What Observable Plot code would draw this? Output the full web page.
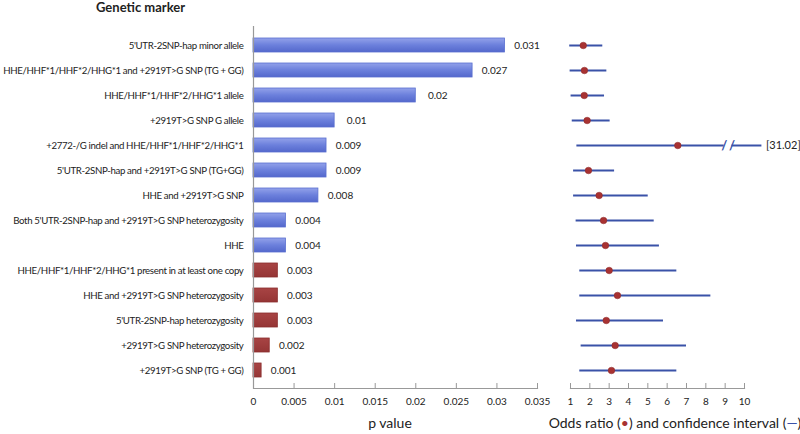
<!DOCTYPE html>
<html>
<head>
<meta charset="utf-8">
<script src="https://cdn.jsdelivr.net/npm/d3@7"></script>
<script src="https://cdn.jsdelivr.net/npm/@observablehq/plot@0.6"></script>
<style>
  html, body { margin: 0; padding: 0; background: #fff; }
  #wrap { position: relative; width: 800px; height: 434px; font-family: Lato, "Open Sans", sans-serif; }
  #wrap > svg { position: absolute; left: 0; top: 0; }
  .title { position: absolute; left: 96px; top: -1px; font-size: 13px; font-weight: bold; color: #222; }
  .xlab { position: absolute; top: 414px; font-size: 14px; color: #222; white-space: nowrap; transform: translateX(-50%); }
  .red { color: #a83232; }
  .blue { color: #3a52a8; }
  .bluebars rect { fill: url(#gradBlue); }
  .redbars rect { fill: url(#gradRed); }
</style>
</head>
<body>
<svg width="0" height="0" style="position:absolute">
  <defs>
    <linearGradient id="gradBlue" x1="0" x2="0" y1="0" y2="1">
      <stop offset="0%" stop-color="#93a2ea"/>
      <stop offset="50%" stop-color="#6c80dc"/>
      <stop offset="100%" stop-color="#5468cc"/>
    </linearGradient>
    <linearGradient id="gradRed" x1="0" x2="0" y1="0" y2="1">
      <stop offset="0%" stop-color="#a84444"/>
      <stop offset="100%" stop-color="#953535"/>
    </linearGradient>
  </defs>
</svg>
<div id="wrap">
  <div class="title">Genetic marker</div>
  <div class="xlab" style="left:390px">p value</div>
  <div class="xlab" style="left:675px">Odds ratio (<span class="red">•</span>) and confidence interval (<span class="blue">—</span>)</div>
</div>
<script>
const markers = [
  "5'UTR-2SNP-hap minor allele",
  "HHE/HHF*1/HHF*2/HHG*1 and +2919T>G SNP (TG + GG)",
  "HHE/HHF*1/HHF*2/HHG*1 allele",
  "+2919T>G SNP G allele",
  "+2772-/G indel and HHE/HHF*1/HHF*2/HHG*1",
  "5'UTR-2SNP-hap and +2919T>G SNP (TG+GG)",
  "HHE and +2919T>G SNP",
  "Both 5'UTR-2SNP-hap and +2919T>G SNP heterozygosity",
  "HHE",
  "HHE/HHF*1/HHF*2/HHG*1 present in at least one copy",
  "HHE and +2919T>G SNP heterozygosity",
  "5'UTR-2SNP-hap heterozygosity",
  "+2919T>G SNP heterozygosity",
  "+2919T>G SNP (TG + GG)"
];
const pValues = [0.031, 0.027, 0.02, 0.01, 0.009, 0.009, 0.008, 0.004, 0.004, 0.003, 0.003, 0.003, 0.002, 0.001];
const groups = ["A","A","A","A","A","A","A","A","A","B","B","B","B","B"];
const oddsRatio = [1.66, 1.72, 1.71, 1.86, 6.55, 1.93, 2.48, 2.71, 2.81, 3.0, 3.43, 2.85, 3.31, 3.12];
const ciLow = [0.96, 0.98, 1.03, 1.09, 1.33, 1.16, 1.16, 1.29, 1.31, 1.48, 1.48, 1.31, 1.55, 1.48];
const ciHigh = [2.67, 2.88, 2.76, 3.05, 31.02, 3.28, 5.02, 5.33, 5.60, 6.5, 8.26, 5.81, 7.0, 6.5];
const pTicks = [0, 0.005, 0.01, 0.015, 0.02, 0.025, 0.03, 0.035];
const orTicks = [1, 2, 3, 4, 5, 6, 7, 8, 9, 10];
// axis break for intervals beyond the visible scale
const breakStart = 8.95, breakEnd = 9.35, breakCap = 10.9;

const rows = markers.map((m, i) => ({
  marker: m, p: pValues[i], group: groups[i],
  or: oddsRatio[i], lo: ciLow[i], hi: ciHigh[i]
}));
const broken = rows.filter(d => d.hi > 10);
const normal = rows.filter(d => d.hi <= 10);

// the original uses a narrow face (Calibri): tighten Lato and size it so the labels fit
const ctx = document.createElement("canvas").getContext("2d");
const mw = (f, t) => { ctx.font = f; return ctx.measureText(t).width; };
const letterSpacing = -0.35;
const longestLabel = markers.reduce((a, b) => mw("10px Lato", b) > mw("10px Lato", a) ? b : a);
const labelSize = Math.min(11, (241 - longestLabel.length * letterSpacing) / (mw("10px Lato", longestLabel) / 10));
const font = "Lato, 'Open Sans', sans-serif";

const W = 800, H = 434, mTop = 26, mBottom = 46;
const pFmt = d => d === 0 ? "0" : String(+d.toFixed(3));

const barPlot = Plot.plot({
  width: W, height: H,
  marginLeft: 253, marginRight: W - 537, marginTop: mTop, marginBottom: mBottom,
  style: {fontFamily: font, fontSize: "10px", color: "#222", background: "transparent", overflow: "visible"},
  x: {domain: [0, 0.035], ticks: pTicks, tickFormat: pFmt},
  y: {domain: markers, padding: 0.46, label: null},
  marks: [
    Plot.barX(rows.filter(d => d.group === "A"), {x: "p", y: "marker", fill: "#6c80dc", stroke: "#5a6fd0", strokeWidth: 0.8, className: "bluebars"}),
    Plot.barX(rows.filter(d => d.group === "B"), {x: "p", y: "marker", fill: "#9e3a3a", stroke: "#8a2e2e", strokeWidth: 0.8, className: "redbars"}),
    Plot.text(rows, {x: "p", y: "marker", text: d => String(d.p), dx: 22, textAnchor: "middle", fontSize: 10, fill: "#222"}),
    Plot.ruleX([0], {stroke: "#999", strokeWidth: 1.2}),
    Plot.frame({anchor: "bottom", stroke: "#999", strokeWidth: 1.2}),
    Plot.axisX({ticks: pTicks, tickSize: -5, tickPadding: 14, stroke: "#999", label: null, tickFormat: pFmt, fontSize: 10}),
    Plot.axisY({tickSize: 0, tickPadding: 10, label: null, fontSize: labelSize})
  ]
});
d3.select(barPlot).selectAll('g[aria-label="y-axis tick label"]').style("letter-spacing", letterSpacing + "px");

const orPlot = Plot.plot({
  width: W, height: H,
  marginLeft: 570, marginRight: W - 744, marginTop: mTop, marginBottom: mBottom,
  style: {fontFamily: font, fontSize: "10px", color: "#222", background: "transparent", overflow: "visible"},
  x: {domain: [1, 10], ticks: orTicks},
  y: {domain: markers, axis: null},
  marks: [
    Plot.ruleY(normal, {y: "marker", x1: "lo", x2: "hi", stroke: "#3a52a8", strokeWidth: 2}),
    Plot.ruleY(broken, {y: "marker", x1: "lo", x2: () => breakStart, stroke: "#3a52a8", strokeWidth: 2}),
    Plot.ruleY(broken, {y: "marker", x1: () => breakEnd, x2: () => breakCap, stroke: "#3a52a8", strokeWidth: 2}),
    Plot.text(broken, {y: "marker", x: () => breakStart, text: () => "/", fontSize: 13, fill: "#3a52a8", fontWeight: "bold"}),
    Plot.text(broken, {y: "marker", x: () => breakEnd, text: () => "/", fontSize: 13, fill: "#3a52a8", fontWeight: "bold"}),
    Plot.text(broken, {y: "marker", x: () => breakCap, text: d => `[${d.hi.toFixed(2)}]`, textAnchor: "start", dx: 4, fontSize: 11, fill: "#222"}),
    Plot.dot(rows, {x: "or", y: "marker", r: 3.3, fill: "#a83232", stroke: "#8a2626", strokeWidth: 0.5}),
    Plot.frame({anchor: "bottom", stroke: "#999", strokeWidth: 1.2}),
    Plot.axisX({ticks: orTicks, tickSize: -5, tickPadding: 14, stroke: "#999", label: null, fontSize: 10})
  ]
});

const wrap = document.getElementById("wrap");
wrap.insertBefore(orPlot, wrap.firstChild);
wrap.insertBefore(barPlot, wrap.firstChild);
</script>
</body>
</html>
